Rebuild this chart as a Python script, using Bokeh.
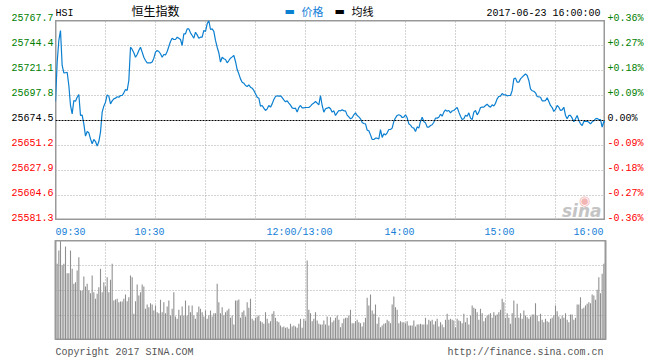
from bokeh.plotting import figure
from bokeh.models import Range1d, FixedTicker, Label, LabelSet, ColumnDataSource, Span
from bokeh.layouts import column, row
from bokeh.core.properties import value
from bokeh.embed import file_html
from bokeh.resources import INLINE

# ---------------- data ----------------
symbol = "HSI"
title = "恒生指数"
legend_items = ["价格", "均线"]
stamp = "2017-06-23 16:00:00"
copyright_text = "Copyright 2017 SINA.COM"
url_text = "http://finance.sina.com.cn"
prev_close = 25674.5

# one price per trading minute (09:30-12:00, 13:00-16:00 joined), index 0..330
price = [
    25692.2, 25728.8, 25749.1, 25758.4, 25725.8, 25718.9, 25719.0, 25719.5, 25707.1, 25688.5,
    25680.7, 25693.1, 25692.5, 25696.2, 25698.7, 25679.2, 25679.5, 25671.4, 25659.9, 25664.2,
    25663.0, 25657.4, 25652.8, 25656.8, 25654.9, 25650.6, 25654.9, 25663.6, 25682.3, 25687.9,
    25691.6, 25698.4, 25697.2, 25690.0, 25692.8, 25694.7, 25695.3, 25696.6, 25696.2, 25697.8,
    25697.8, 25700.3, 25703.4, 25702.5, 25711.8, 25742.8, 25740.7, 25737.6, 25733.5, 25736.0,
    25739.7, 25742.8, 25738.2, 25733.5, 25730.4, 25728.2, 25728.2, 25728.2, 25729.0, 25732.6,
    25738.2, 25739.7, 25738.8, 25736.7, 25733.5, 25736.0, 25735.6, 25738.8, 25743.5, 25748.1,
    25751.2, 25750.0, 25750.0, 25752.2, 25751.2, 25750.0, 25744.4, 25755.3, 25755.3, 25759.9,
    25759.9, 25756.2, 25753.7, 25751.2, 25756.8, 25754.3, 25751.2, 25752.2, 25752.2, 25758.4,
    25757.5, 25764.6, 25767.7, 25759.3, 25759.9, 25757.5, 25749.1, 25742.8, 25737.6, 25728.9,
    25733.5, 25732.0, 25731.4, 25728.3, 25730.4, 25732.6, 25733.8, 25735.1, 25729.5, 25722.0,
    25718.0, 25713.3, 25710.2, 25709.3, 25707.1, 25706.2, 25707.7, 25705.6, 25704.6, 25702.5,
    25699.4, 25696.2, 25695.3, 25687.9, 25688.5, 25686.0, 25683.8, 25685.4, 25688.5, 25686.9,
    25690.0, 25694.1, 25696.8, 25697.5, 25697.2, 25697.5, 25695.9, 25693.8, 25691.9, 25692.8,
    25690.7, 25688.8, 25686.3, 25685.7, 25686.0, 25682.3, 25686.6, 25688.5, 25686.3, 25686.3,
    25686.6, 25686.6, 25686.6, 25687.9, 25689.7, 25690.7, 25692.2, 25690.7, 25689.1, 25697.8,
    25688.5, 25682.3, 25685.4, 25686.0, 25686.9, 25685.4, 25682.3, 25683.5, 25679.2, 25681.6,
    25683.8, 25683.5, 25684.4, 25683.5, 25683.5, 25679.5, 25677.9, 25676.1, 25677.0, 25679.8,
    25681.6, 25679.2, 25677.9, 25676.1, 25672.6, 25671.7, 25671.4, 25665.5, 25664.9, 25661.1,
    25656.8, 25656.8, 25658.0, 25658.0, 25657.4, 25666.1, 25658.7, 25662.1, 25661.1, 25663.0,
    25666.1, 25666.1, 25667.4, 25673.6, 25677.0, 25679.2, 25679.8, 25679.2, 25677.3, 25677.6,
    25679.8, 25677.0, 25671.4, 25670.2, 25668.0, 25667.4, 25664.2, 25668.6, 25667.4, 25673.6,
    25677.6, 25673.6, 25672.3, 25668.3, 25668.3, 25669.8, 25670.5, 25672.9, 25676.7, 25676.7,
    25677.6, 25680.4, 25678.5, 25682.3, 25684.4, 25683.2, 25683.8, 25681.6, 25683.5, 25683.8,
    25685.4, 25686.6, 25682.3, 25678.5, 25675.4, 25676.1, 25679.5, 25678.5, 25681.6, 25676.7,
    25675.4, 25682.3, 25683.8, 25679.8, 25682.3, 25686.6, 25686.9, 25686.9, 25688.5, 25689.7,
    25687.9, 25686.9, 25689.1, 25688.0, 25690.5, 25694.7, 25696.9, 25697.2, 25699.7, 25698.4,
    25698.4, 25697.5, 25697.8, 25697.8, 25702.5, 25713.3, 25714.0, 25710.2, 25710.2, 25713.3,
    25714.9, 25716.4, 25718.0, 25716.4, 25711.8, 25704.0, 25702.2, 25701.8, 25700.3, 25696.9,
    25696.6, 25696.2, 25692.8, 25692.8, 25693.1, 25695.6, 25692.2, 25688.5, 25686.6, 25682.9,
    25684.8, 25688.5, 25686.9, 25683.8, 25684.4, 25686.9, 25679.2, 25676.1, 25679.2, 25679.2,
    25676.7, 25673.3, 25676.1, 25679.2, 25674.5, 25671.4, 25669.8, 25673.6, 25673.6, 25673.9,
    25672.9, 25671.4, 25673.3, 25674.2, 25676.1, 25676.4, 25675.4, 25675.4, 25668.3, 25673.6,
    25672.9,
]
minute = list(range(len(price)))

# volume per minute (relative units), minutes 1..330
volume = [
    76.7, 90, 99.3, 75, 76.7, 94, 67.3, 67.3, 90, 71.7,
    56.7, 58.3, 70, 83.3, 50, 50, 64, 54, 56.7, 50,
    47.3, 65, 48.3, 41.7, 46.7, 53.3, 71.7, 48.3, 58.3, 54,
    63.3, 48.3, 60.7, 76.7, 40, 41, 41.7, 38.3, 39, 39,
    41.7, 46, 39.3, 43.3, 65, 63.3, 26.7, 39.3, 56, 45,
    48.3, 56, 54, 31.7, 36, 33.3, 37.3, 36, 30, 35,
    28.3, 27.3, 40.7, 28.3, 38.3, 27.3, 34, 40, 25, 31.7,
    48.3, 24, 21.7, 30.7, 25, 34, 25, 40, 25, 35,
    28.3, 35, 25, 21.7, 28.3, 34, 31.7, 28.3, 24, 30,
    21.7, 25, 30, 24, 27.3, 27.3, 56.7, 38.3, 27.3, 33.3,
    25, 28.3, 30, 31.7, 22.7, 25, 16, 40, 40, 41,
    22.7, 28.3, 30, 24, 38.3, 32.7, 41.7, 21.7, 20, 22.7,
    24, 25, 19.3, 18.3, 16.7, 28.3, 21.7, 17.3, 19.3, 26.7,
    29.3, 22.7, 19.3, 18.3, 15, 13.3, 14, 12.7, 13.3, 11.7,
    16.7, 14, 15, 14, 12.7, 16.7, 21.7, 12.7, 21.7, 20,
    80, 30.7, 27.3, 19.3, 21.7, 28.3, 20, 16.7, 16, 16,
    20, 16, 24, 15, 23.3,
    18.3, 20, 22.7, 25, 20.7, 13.3, 17.3, 21.7, 22.7, 22.7,
    25, 30.7, 17.3, 17.3, 19.3, 20.7, 18.3, 17.3, 14, 18.3,
    22.7, 42.7, 35, 46, 30, 26.7, 36, 16.7, 23.3, 13.3,
    15, 16.7, 17.3, 20.7, 19.3, 17.3, 36, 44, 33.3, 30.7,
    17.3, 19.3, 18.3, 18.3, 17.3, 19.3, 15, 15, 15, 20,
    14, 16, 16, 16.7, 16, 16, 22.7, 16, 20.7, 19.3,
    20.7, 16, 19.3, 21.7, 14, 18.3, 16, 13.3, 20.7, 26.7,
    20.7, 21.7, 20.7, 20, 13.3, 21.7, 20, 19.3, 17.3, 26.7,
    18.3, 22.7, 16, 25, 35, 32.7, 31.7, 28.3, 20.7, 31.7,
    27.3, 19.3, 22.7, 25, 26, 27.3, 22.7, 28.3, 25, 26,
    28.3, 30.7, 41.7, 38.3, 22.7, 27.3, 22.7, 16.7, 27.3, 40,
    22.7, 36.7, 22.7, 27.3, 21.7, 30, 25, 23.3, 21.7, 24,
    26, 26, 37.3, 25, 19.3, 26.7, 20.7, 18.3, 21.7, 19.3,
    18.3, 21.7, 22.7, 25, 35, 29.3, 24, 21.7, 25, 22.7,
    27.3, 20.7, 18.3, 26, 26, 20.7, 22.7, 36, 36, 43.3,
    31.7, 32.7, 35, 36.7, 38.3, 37.3, 46, 45, 40.7, 50.7,
    63.3, 47.3, 66.7, 76.7, 80,
]
vol_minute = list(range(1, len(volume) + 1))

price_ticks = [25767.7, 25744.4, 25721.1, 25697.8, 25674.5, 25651.2, 25627.9, 25604.6, 25581.3]
time_ticks = [0, 60, 150, 210, 270, 330]
time_labels = ["09:30", "10:30", "12:00/13:00", "14:00", "15:00", "16:00"]
grid_minutes = [30, 60, 90, 120, 150, 180, 210, 240, 270, 300]
vol_grid = [25, 50, 75]

# ---------------- styling / layout constants ----------------
MONO = "Liberation Mono"
CJK = "Noto Sans CJK SC"
LINE_BLUE = "#0b7fd0"
TIME_BLUE = "#1580d8"
GREEN = "#008000"
RED = "#ff0000"
GRID = "#a8a8a8"
FRAME = "#999999"
SIDE_W, PLOT_W, PLOT_H, STRIP_H, VOL_H = 55, 550, 200, 20, 100


def pct_text(t):
    p = (t / prev_close - 1) * 100
    if abs(p) < 0.005:
        return "0.00%"
    return f"{p:+.2f}%"


def tick_color(t):
    if abs(t - prev_close) < 1e-6:
        return "black"
    return GREEN if t > prev_close else RED


def panel(w, h, xr, yr, border=0):
    f = figure(width=w, height=h, x_range=xr, y_range=yr, output_backend="svg",
               toolbar_location=None, x_axis_location=None, y_axis_location=None,
               min_border_left=border, min_border_right=border,
               min_border_top=0, min_border_bottom=0)
    f.outline_line_color = None
    f.grid.visible = False
    f.background_fill_color = "white"
    f.border_fill_color = "white"
    return f


def dotted_grid(f, xticks, yticks):
    f.grid.visible = True
    f.xgrid.ticker = FixedTicker(ticks=xticks)
    f.ygrid.ticker = FixedTicker(ticks=yticks)
    for g in (f.xgrid, f.ygrid):
        g.grid_line_color = GRID
        g.grid_line_dash = "1 2"
        g.grid_line_width = 1


x0, x1 = minute[0], minute[-1]
lo, hi = min(price_ticks), max(price_ticks)
xr = Range1d(x0, x1)
yr = Range1d(lo, hi)
per_px = (hi - lo) / PLOT_H
side_yr = Range1d(lo - STRIP_H * per_px, hi + STRIP_H * per_px)
strip_yr = Range1d(STRIP_H, 0)   # y measured in px from the top of the strip

# ---------------- main price panel ----------------
p = panel(PLOT_W, PLOT_H, xr, yr)
p.outline_line_color = FRAME
p.outline_line_width = 2
dotted_grid(p, grid_minutes, [t for t in price_ticks if t not in (lo, hi, prev_close)])
p.add_layout(Span(location=prev_close, dimension="width", line_color="black",
                  line_dash="2 1", line_width=1))
p.line(minute, price, line_color=LINE_BLUE, line_width=1.2)
# watermark (eye + "sina")
p.add_layout(Label(x=x1, y=lo, text="◉", x_offset=-21, y_offset=20, text_align="center",
                   text_baseline="middle", text_font="DejaVu Sans",
                   text_font_size="13px", text_color="#f3b4b4"))
p.add_layout(Label(x=x1, y=lo, text="sina", x_offset=-4, y_offset=10, text_align="right",
                   text_baseline="alphabetic", text_font="DejaVu Sans",
                   text_font_size="17px", text_font_style="bold italic",
                   text_color="#c4c4c4"))

# ---------------- side tick-label panels ----------------
tick_src = ColumnDataSource(dict(
    y=price_ticks,
    left=[f"{t:.1f}" for t in price_ticks],
    right=[pct_text(t) for t in price_ticks],
    color=[tick_color(t) for t in price_ticks],
))
left = panel(SIDE_W, PLOT_H + 2 * STRIP_H, Range1d(0, 1), side_yr)
left.add_layout(LabelSet(x=1, y="y", text="left", source=tick_src, x_offset=-2,
                         text_align="right", text_baseline="alphabetic",
                         text_color="color", text_font=value(MONO), text_font_size="10px"))
right = panel(SIDE_W, PLOT_H + 2 * STRIP_H, Range1d(0, 1), side_yr)
right.add_layout(LabelSet(x=0, y="y", text="right", source=tick_src, x_offset=2,
                          text_align="left", text_baseline="alphabetic",
                          text_color="color", text_font=value(MONO), text_font_size="10px"))

# ---------------- header strip ----------------
head = panel(PLOT_W, STRIP_H, xr, strip_yr)
head.add_layout(Label(x=x0, y=13, text=symbol, text_align="left",
                      text_baseline="alphabetic", text_font=MONO, text_font_size="10px",
                      text_color="black"))
head.add_layout(Label(x=60, y=10, text=title, text_align="center",
                      text_baseline="middle", text_font=CJK, text_font_size="12px",
                      text_color="black"))
for (txt, col, off) in zip(legend_items, [LINE_BLUE, "black"], [229, 279]):
    head.add_layout(Label(x=x0, y=11, text="▬", x_offset=off, text_align="left",
                          text_baseline="middle", text_font="DejaVu Sans",
                          text_font_size="11px", text_color=col))
    head.add_layout(Label(x=x0, y=10, text=txt, x_offset=off + 17, text_align="left",
                          text_baseline="middle", text_font=CJK, text_font_size="11px",
                          text_color=TIME_BLUE if col == LINE_BLUE else "black"))
head.add_layout(Label(x=x1, y=13, text=stamp, x_offset=-5, text_align="right",
                      text_baseline="alphabetic", text_font=MONO, text_font_size="10px",
                      text_color="black"))

# ---------------- time label strip ----------------
times = panel(PLOT_W, STRIP_H, xr, strip_yr)
for i, (t, lab) in enumerate(zip(time_ticks, time_labels)):
    if i == 0:
        align, off = "left", 0
    elif i == len(time_ticks) - 1:
        align, off = "right", -2
    else:
        align, off = "center", -6
    times.add_layout(Label(x=t, y=12, text=lab, x_offset=off,
                           text_align=align, text_baseline="alphabetic",
                           text_color=TIME_BLUE, text_font=MONO, text_font_size="10px"))

# ---------------- volume panel ----------------
v = panel(SIDE_W * 2 + PLOT_W, VOL_H, xr, Range1d(0, 100), border=SIDE_W)
v.outline_line_color = FRAME
v.outline_line_width = 2
dotted_grid(v, grid_minutes, vol_grid)
v.vbar(x=vol_minute, top=volume, width=0.65, fill_color="#8f8f8f", line_color=None)

# ---------------- footer strip ----------------
foot = panel(SIDE_W * 2 + PLOT_W, STRIP_H, xr, strip_yr, border=SIDE_W)
foot.add_layout(Label(x=x0, y=12, text=copyright_text, text_align="left",
                      text_baseline="alphabetic", text_font=MONO,
                      text_font_size="10px", text_color="#555555"))
foot.add_layout(Label(x=x1, y=12, text=url_text, x_offset=-2,
                      text_align="right", text_baseline="alphabetic", text_font=MONO,
                      text_font_size="10px", text_color="#555555"))

layout = column(
    row(left, column(head, p, times, spacing=0), right, spacing=0),
    v, foot, spacing=0,
)
open("out.html", "w").write(file_html(layout, INLINE))
